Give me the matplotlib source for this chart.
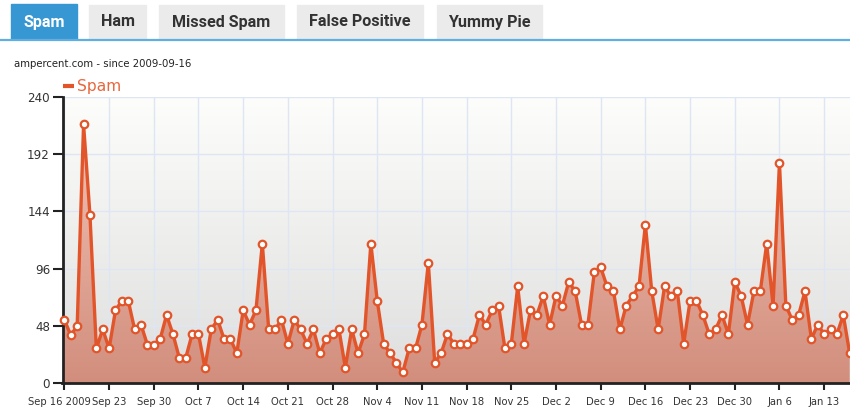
import numpy as np
import pandas as pd
import matplotlib
matplotlib.use("Agg")
from matplotlib import pyplot as plt
from matplotlib.patches import Rectangle
from matplotlib.lines import Line2D
from matplotlib.colors import LinearSegmentedColormap
from matplotlib.transforms import ScaledTranslation

# daily spam counts, starting 2009-09-16
start_date = "2009-09-16"
spam = [53, 40, 48, 217, 141, 29, 45, 29, 61, 69, 69, 45, 49, 32, 32, 37, 57, 41, 21, 21,
        41, 41, 13, 45, 53, 37, 37, 25, 61, 49, 61, 117, 45, 45, 53, 33, 53, 45, 33, 45,
        25, 37, 41, 45, 13, 45, 25, 41, 117, 69, 33, 25, 17, 9, 29, 29, 49, 101, 17, 25,
        41, 33, 33, 33, 37, 57, 49, 61, 65, 29, 33, 81, 33, 61, 57, 73, 49, 73, 65, 85,
        77, 49, 49, 93, 97, 81, 77, 45, 65, 73, 81, 133, 77, 45, 81, 73, 77, 33, 69, 69,
        57, 41, 45, 57, 41, 85, 73, 49, 77, 77, 117, 65, 185, 65, 53, 57, 77, 37, 49, 41,
        45, 41, 57, 25]
tick_labels = ["Sep 16 2009", "Sep 23", "Sep 30", "Oct 7", "Oct 14", "Oct 21", "Oct 28",
               "Nov 4", "Nov 11", "Nov 18", "Nov 25", "Dec 2", "Dec 9", "Dec 16",
               "Dec 23", "Dec 30", "Jan 6", "Jan 13"]
y_ticks = [0, 48, 96, 144, 192, 240]
tabs = ["Spam", "Ham", "Missed Spam", "False Positive", "Yummy Pie"]
subtitle = "ampercent.com - since 2009-09-16"

W, H = 850, 409
LINE = "#e2552a"


def fx(px):
    return px / W


def fy(py):
    return 1 - py / H


dates = pd.date_range(start_date, periods=len(spam), freq="D")
days = (dates - dates[0]).days.to_numpy()
values = np.array(spam)

fig = plt.figure(figsize=(W / 100, H / 100), dpi=100)
fig.patch.set_facecolor("white")

# tab bar
tab_x = [(11, 77), (89, 146), (159, 284), (297, 423), (437, 542)]
for i, (label, (x0, x1)) in enumerate(zip(tabs, tab_x)):
    active = i == 0
    top = 4 if active else 5
    fig.patches.append(Rectangle((fx(x0), fy(39)), fx(x1 - x0), (39 - top) / H,
                                 transform=fig.transFigure, color="#3797d3" if active else "#ebebeb",
                                 zorder=1))
    fig.text(fx((x0 + x1) / 2), fy(22), label, ha="center", va="center",
             family="Roboto", weight="bold", fontsize=11.6,
             color="white" if active else "#333333")
fig.lines.append(Line2D([0, 1], [fy(40), fy(40)], transform=fig.transFigure,
                        color="#62aee0", lw=1.6))

fig.text(fx(14), fy(64), subtitle, ha="left", va="center", fontsize=7.3, color="#222222")

# legend
fig.lines.append(Line2D([fx(63), fx(74)], [fy(86), fy(86)], transform=fig.transFigure,
                        color=LINE, lw=3, solid_capstyle="butt"))
fig.text(fx(77), fy(86), "Spam", ha="left", va="center", fontsize=11.2, color="#e8673c")

ax = fig.add_axes([fx(62.5), 1 - 383 / H, 1 - fx(62.5), (383 - 97) / H])
ax.set_xlim(-0.3, days[-1] + 0.05)
ax.set_ylim(0, 240)

# background gradient
bg = LinearSegmentedColormap.from_list("bg", ["#dedede", "#fdfdfb"])
ax.imshow(np.linspace(0, 1, 256).reshape(-1, 1), cmap=bg, aspect="auto", origin="lower",
          extent=[-0.3, days[-1] + 0.05, 0, 240], zorder=0)

ax.set_xticks(days[::7])
ax.set_yticks(y_ticks)
ax.grid(True, color="#dde6f2", lw=1, zorder=1)

# gradient area under line
poly = ax.fill_between(days, values, 0, color="none", lw=0, zorder=2)
fill_cmap = LinearSegmentedColormap.from_list("fill", ["#d28e7d", "#e3aa9b", "#f0cdc2"])
im = ax.imshow(np.linspace(0, 1, 256).reshape(-1, 1), cmap=fill_cmap, aspect="auto",
               origin="lower", extent=[-0.3, days[-1] + 0.05, 0, 240], zorder=2)
im.set_clip_path(poly.get_paths()[0], transform=ax.transData)

ax.plot(days, values, color=LINE, lw=2.4, marker="o", markersize=5.4,
        markerfacecolor="white", markeredgecolor=LINE, markeredgewidth=1.6,
        zorder=3, clip_on=False)

ax.set_xticklabels(tick_labels, fontsize=7.2, color="#333333")
ax.set_yticklabels([str(v) for v in y_ticks], fontsize=8.6, color="#333333")
ax.tick_params(axis="x", length=5, width=1.5, color="#222222", pad=5)
ax.tick_params(axis="y", length=7, width=1.5, color="#222222", pad=2)

# nudge the long first date label left so it clears "Sep 23"
first = ax.get_xticklabels()[0]
first.set_transform(first.get_transform() + ScaledTranslation(-5 / 100, 0, fig.dpi_scale_trans))

for side in ["top", "right"]:
    ax.spines[side].set_visible(False)
for side in ["left", "bottom"]:
    ax.spines[side].set_color("#222222")
    ax.spines[side].set_linewidth(2)

fig.savefig("out.png", dpi=100)
